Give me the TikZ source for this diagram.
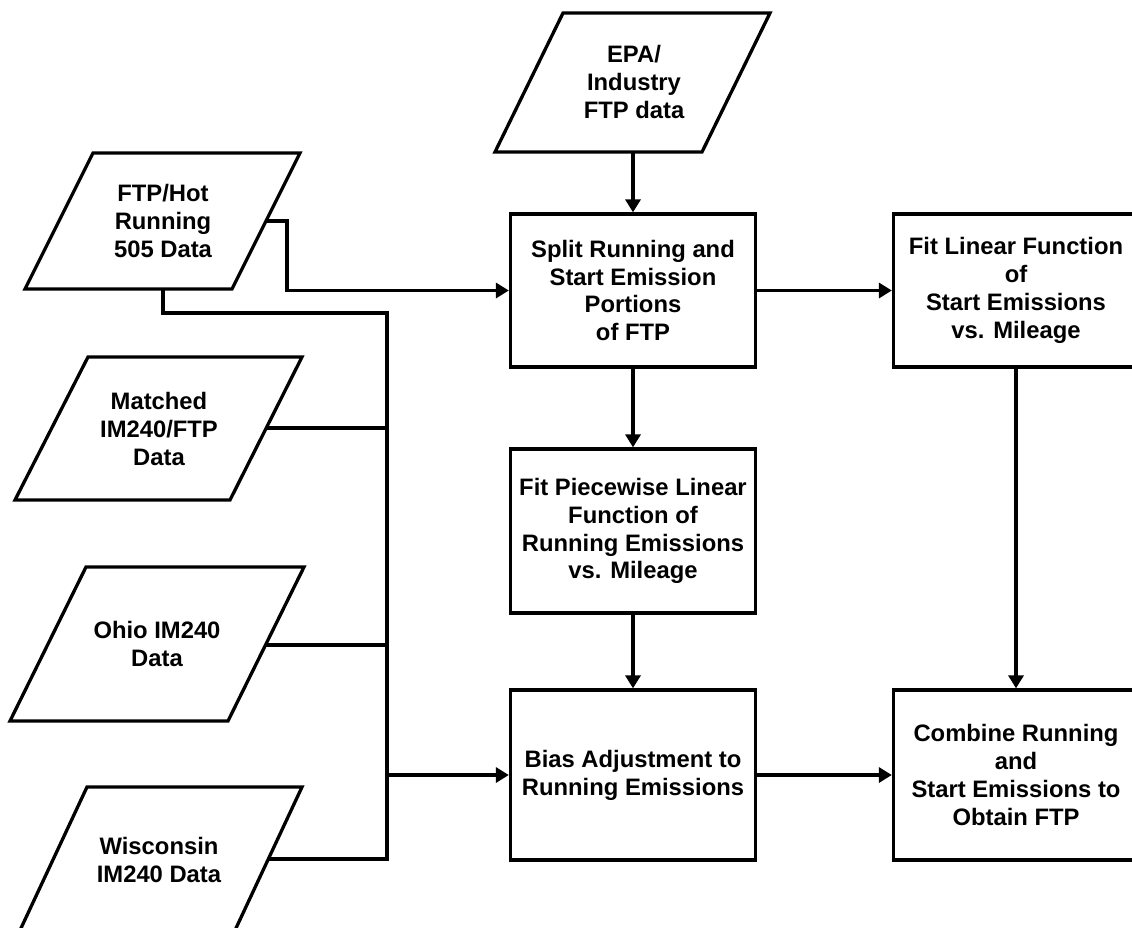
\documentclass[tikz,border=0pt]{standalone}
\usepackage{fontspec}
\setmainfont{Liberation Sans}
\usetikzlibrary{arrows.meta}

\begin{document}
\begin{tikzpicture}[x = 1pt, y = -1pt,
  every node/.style = {font = \fontsize{23.8}{27.8}\selectfont\bfseries, align = center},
  stepbox/.style = {draw, line width = 3.3pt, minimum width = 245pt, inner sep = 0pt},
  datatext/.style = {inner sep = 0pt},
  link/.style = {line width = 3.3pt},
  arr/.style = {line width = 3.3pt, -{Triangle[length = 13pt, width = 15pt]}}]
\useasboundingbox (0, 0) rectangle (1132, 927);
\clip (0, 0) rectangle (1132, 927);
% data inputs
\draw [link] (563, 13) -- (770, 13) -- (702, 152) -- (495, 152) -- cycle;
\node (epa) [datatext] at (634, 82) {EPA/\\Industry\\FTP data};
\coordinate (epaout) at (633, 152);
\draw [link] (93, 153) -- (300, 153) -- (232, 289) -- (25, 289) -- cycle;
\node (hot) [datatext] at (163, 221) {FTP/Hot\\Running\\505 Data};
\coordinate (hotout) at (266, 221);
\coordinate (hotdown) at (163, 289);
\draw [link] (88, 357) -- (302, 357) -- (230, 500) -- (15, 500) -- cycle;
\node (matched) [datatext] at (159, 429) {Matched\\IM240/FTP\\Data};
\coordinate (matchedout) at (266, 428);
\draw [link] (86, 567) -- (304, 567) -- (228, 721) -- (10, 721) -- cycle;
\node (ohio) [datatext] at (157, 644) {Ohio IM240\\Data};
\coordinate (ohioout) at (266, 645);
\draw [link] (87, 787) -- (302, 787) -- (230, 941) -- (15, 941) -- cycle;
\node (wisc) [datatext] at (159, 860) {Wisconsin\\IM240 Data};
\coordinate (wiscout) at (268, 859);
% steps
\node (split) [stepbox, minimum height = 153pt] at (633, 290.5) {Split Running and\\Start Emission\\Portions\\of FTP};
\node (fitstart) [stepbox, minimum height = 153pt] at (1016, 290.5) {Fit Linear Function\\of\\Start Emissions\\vs. Mileage};
\node (fitrun) [stepbox, minimum height = 164pt] at (633, 531) {Fit Piecewise Linear\\Function of\\Running Emissions\\vs. Mileage};
\node (bias) [stepbox, minimum height = 170pt] at (633, 775) {Bias Adjustment to\\Running Emissions};
\node (combine) [stepbox, minimum height = 170pt] at (1016, 775) {Combine Running\\and\\Start Emissions to\\Obtain FTP};
% connectors
\coordinate (bustop) at (387, 313);
\coordinate (busbot) at (387, 859);
\draw [arr] (epaout) -- (split.north);
\draw [arr] (hotout) -- ++(21, 0) |- (split.west);
\draw [link] (hotdown) |- (bustop) -- (busbot) -- (wiscout);
\draw [link] (matchedout) -- (matchedout -| bustop);
\draw [link] (ohioout) -- (ohioout -| bustop);
\draw [arr] (bias.west -| bustop) -- (bias.west);
\draw [arr] (split.east) -- (fitstart.west);
\draw [arr] (split.south) -- (fitrun.north);
\draw [arr] (fitrun.south) -- (bias.north);
\draw [arr] (bias.east) -- (combine.west);
\draw [arr] (fitstart.south) -- (combine.north);
\end{tikzpicture}
\end{document}
